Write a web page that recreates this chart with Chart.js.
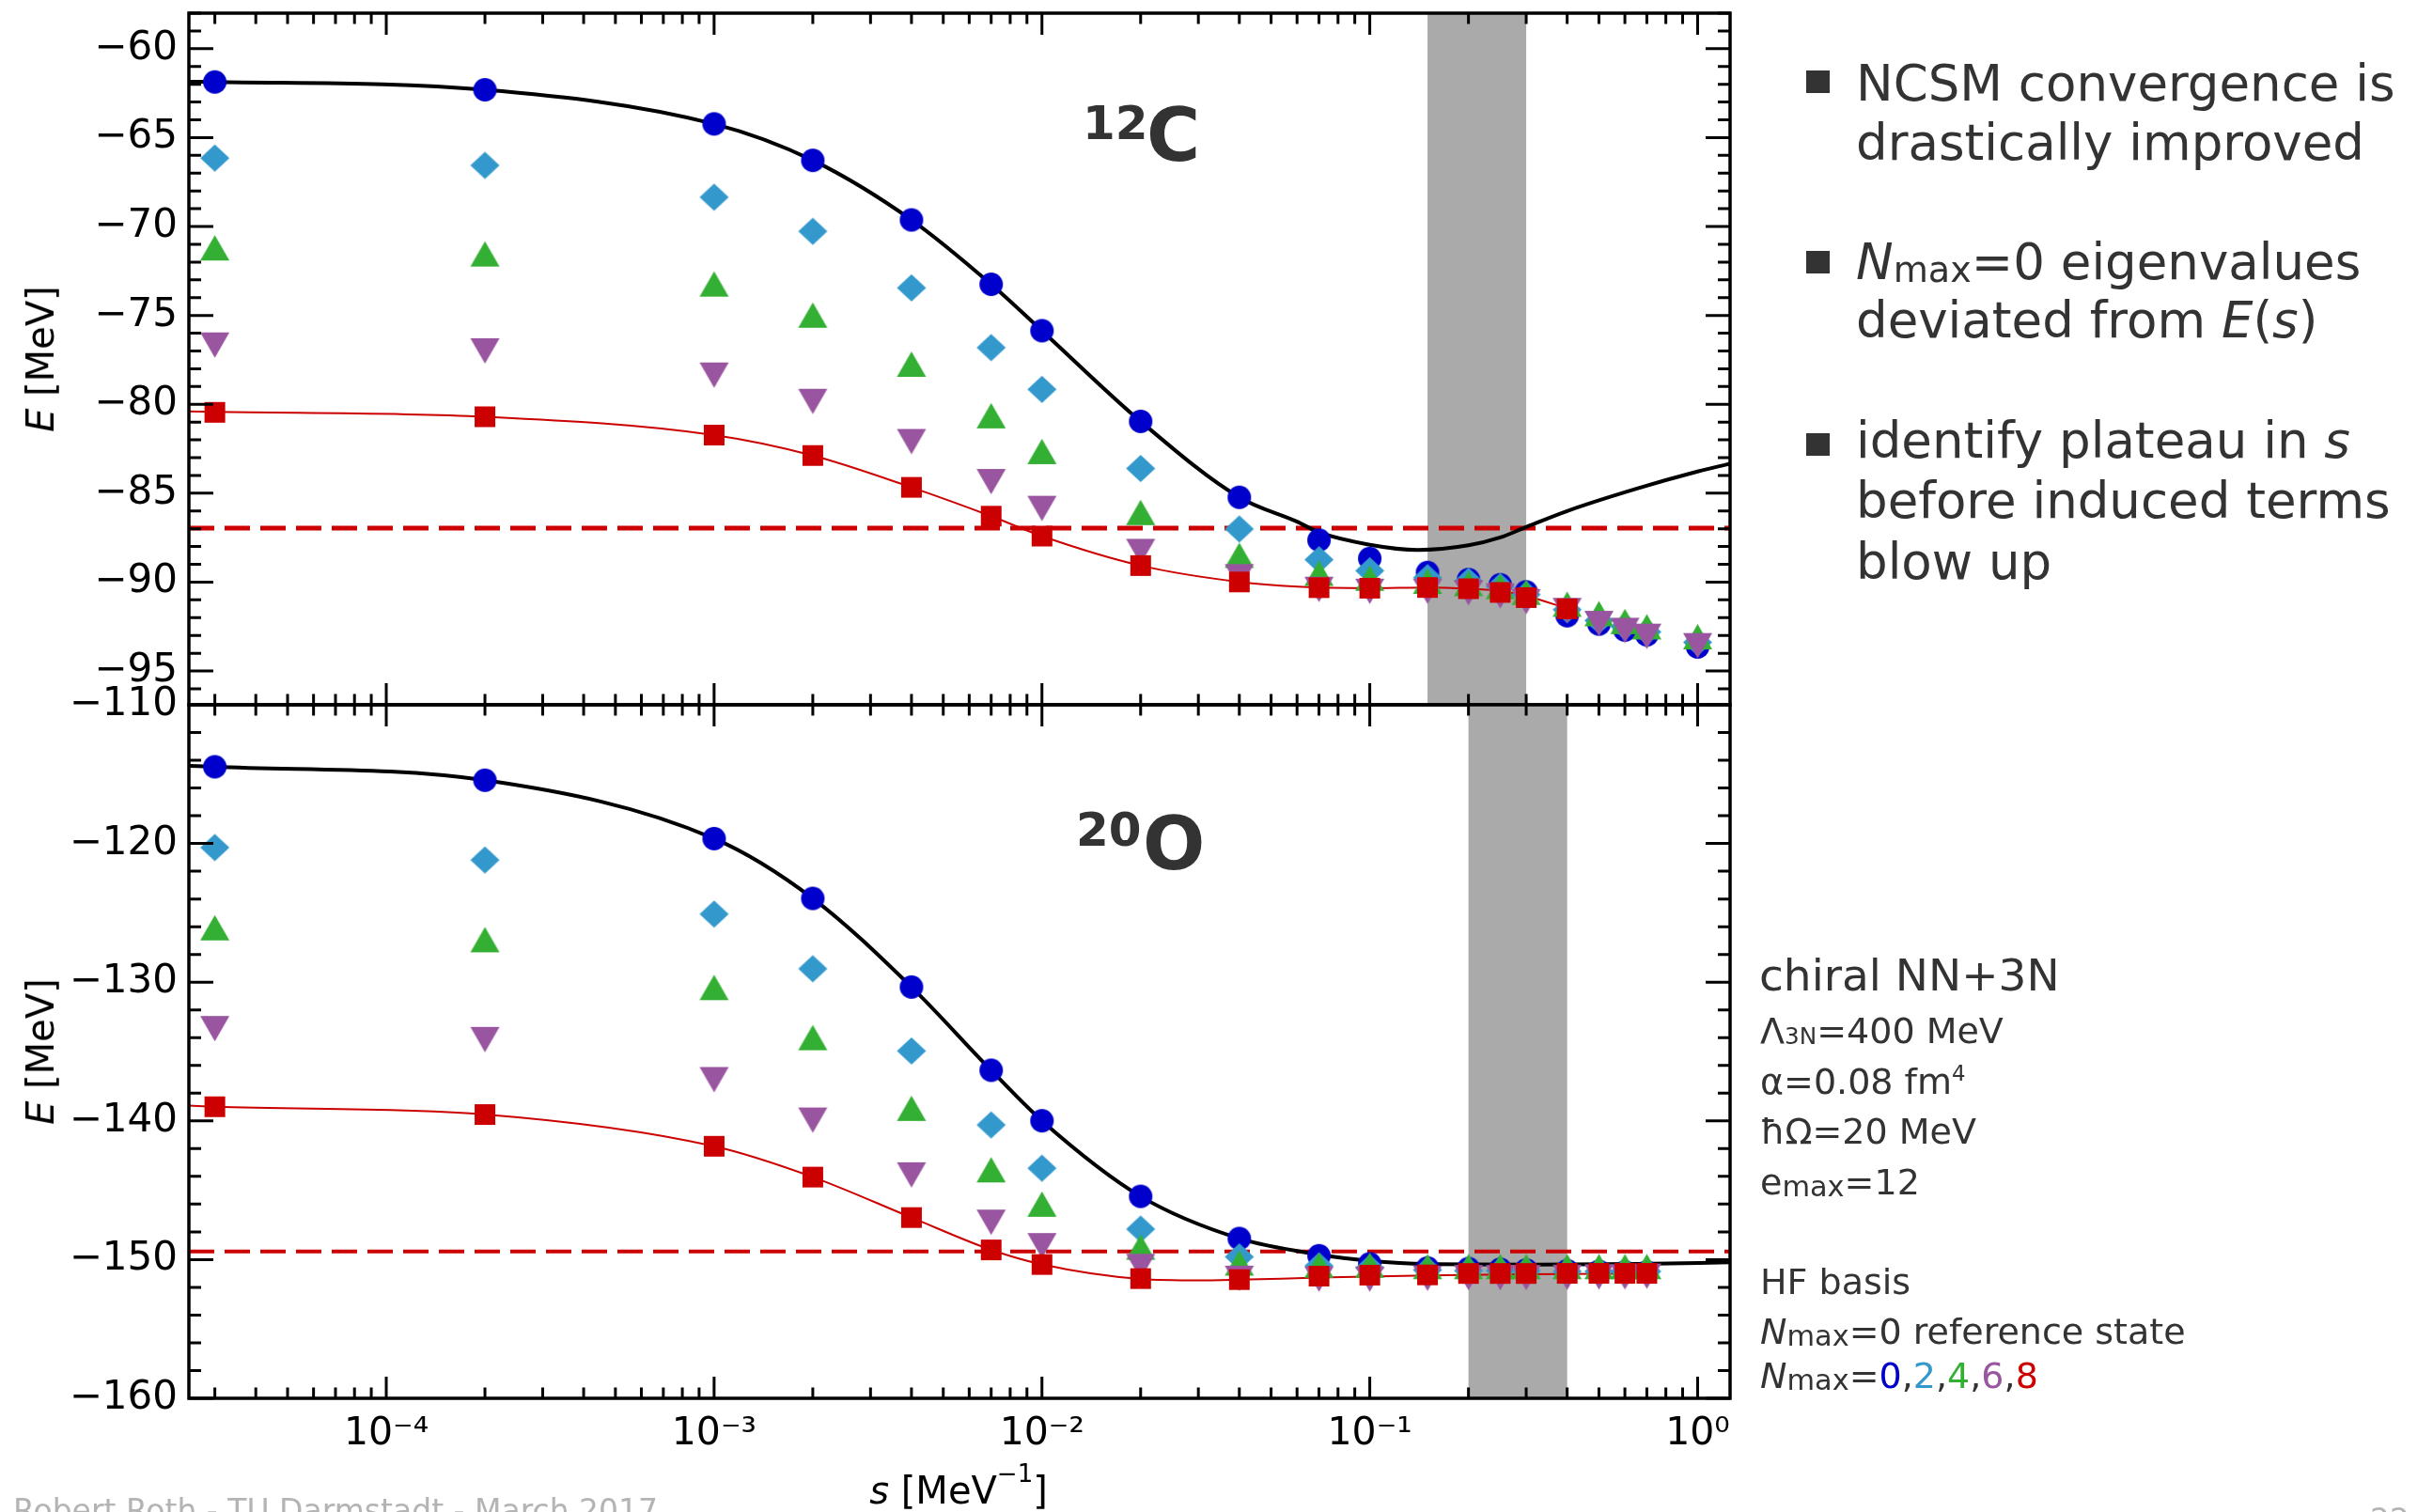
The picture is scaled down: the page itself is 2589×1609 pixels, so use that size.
<!DOCTYPE html>
<html>
<head>
<meta charset="utf-8">
<script src="https://cdn.jsdelivr.net/npm/chart.js@4.4.1/dist/chart.umd.min.js"></script>
<style>
  html, body { margin: 0; padding: 0; background: #fff; }
  #page { position: relative; width: 2589px; height: 1609px; overflow: hidden; font-family: "DejaVu Sans"; color: #333; }
  canvas { position: absolute; left: 0; top: 0; }
  .t { position: absolute; white-space: nowrap; line-height: 1; }
  .big { left: 1975px; font-size: 53px; }
  .med { left: 1873px; font-size: 38px; }
  .bl { position: absolute; left: 1922px; width: 25px; height: 24px; background: #333; }
  .sub { font-size: 0.72em; position: relative; top: 0.08em; }
  .sub2 { font-size: 0.8em; position: relative; top: 0.06em; }
  .sub3 { font-size: 0.65em; position: relative; top: 0.06em; }
  .sup2 { font-size: 0.6em; position: relative; top: -0.62em; }
  .iso { font-weight: bold; color: #333; }
  .ytitle { font-size: 40px; color: #000; transform: translate(-50%, -50%) rotate(-90deg); }
  .xtitle { font-size: 40px; color: #000; transform: translateX(-50%); }
  .xsup { font-size: 26px; position: relative; top: -23px; }
  .foot { font-size: 33px; color: #b4b4b4; }
</style>
</head>
<body>
<div id="page">
  <canvas id="chartC" width="2589" height="1609"></canvas>
  <canvas id="chartO" width="2589" height="1609"></canvas>

  <div class="t iso" style="left:1152px; top:106px; font-size:50px">12</div>
  <div class="t iso" style="left:1220px; top:105px; font-size:78px">C</div>
  <div class="t iso" style="left:1145px; top:858px; font-size:50px">20</div>
  <div class="t iso" style="left:1216px; top:859px; font-size:78px">O</div>

  <div class="t ytitle" style="left:43px; top:382px"><i>E</i> [MeV]</div>
  <div class="t ytitle" style="left:43px; top:1119px"><i>E</i> [MeV]</div>
  <div class="t xtitle" style="left:1020px; top:1566px"><i>s</i> [MeV<span class="xsup">&minus;1</span>]</div>

  <div class="bl" style="top:75px"></div>
  <div class="t big" style="top:62px">NCSM convergence is</div>
  <div class="t big" style="top:125px">drastically improved</div>
  <div class="bl" style="top:267px"></div>
  <div class="t big" style="top:252px"><i>N</i><span class="sub">max</span>=0 eigenvalues</div>
  <div class="t big" style="top:314px">deviated from <i>E</i>(<i>s</i>)</div>
  <div class="bl" style="top:461px"></div>
  <div class="t big" style="top:442px">identify plateau in <i>s</i></div>
  <div class="t big" style="top:506px">before induced terms</div>
  <div class="t big" style="top:571px">blow up</div>

  <div class="t" style="left:1872px; top:1014px; font-size:47px">chiral NN+3N</div>
  <div class="t med" style="top:1078px">&Lambda;<span class="sub3">3N</span>=400 MeV</div>
  <div class="t med" style="top:1132px">&alpha;=0.08 fm<span class="sup2">4</span></div>
  <div class="t med" style="top:1185px">&#295;&Omega;=20 MeV</div>
  <div class="t med" style="top:1239px">e<span class="sub2">max</span>=12</div>
  <div class="t med" style="top:1345px">HF basis</div>
  <div class="t med" style="top:1398px"><i>N</i><span class="sub2">max</span>=0 reference state</div>
  <div class="t med" style="top:1445px"><i>N</i><span class="sub2">max</span>=<span style="color:#0000cc">0</span>,<span style="color:#3399cc">2</span>,<span style="color:#33b033">4</span>,<span style="color:#99559f">6</span>,<span style="color:#cc0000">8</span></div>

  <div class="t foot" style="left:14px; top:1591px">Robert Roth - TU Darmstadt - March 2017</div>
  <div class="t foot" style="left:2522px; top:1601px">22</div>
</div>

<script>
// axis range shared by both panels, s in MeV^-1
const sRange = [2.5e-5, 1.256];
const xTicks = [1e-4, 1e-3, 1e-2, 1e-1, 1];

// 12C panel
const yRangeC = [-96.9, -58];
const yTicksC = [-95, -90, -85, -80, -75, -70, -65, -60];
const sC = [3e-5, 2e-4, 1e-3, 2e-3, 4e-3, 7e-3, 1e-2, 2e-2, 4e-2, 7e-2, 0.1, 0.15, 0.2, 0.25, 0.3, 0.4, 0.5, 0.6, 0.7, 1.0];
const eC0 = [-61.87, -62.31, -64.23, -66.28, -69.63, -73.25, -75.86, -80.96, -85.23, -87.64, -88.67, -89.46, -89.86, -90.15, -90.55, -91.89, -92.36, -92.70, -92.97, -93.65];
const eC2 = [-66.15, -66.56, -68.35, -70.27, -73.45, -76.81, -79.16, -83.61, -87.01, -88.74, -89.36, -89.75, -89.95, -90.25, -90.70, -91.55, -92.16, -92.50, -92.80, -93.39];
const eC4 = [-71.20, -71.54, -73.23, -74.98, -77.74, -80.64, -82.65, -86.08, -88.49, -89.50, -89.78, -89.95, -90.08, -90.25, -90.57, -91.24, -91.77, -92.21, -92.51, -93.07];
const eC6 = [-76.67, -77.00, -78.36, -79.84, -82.10, -84.35, -85.86, -88.28, -89.70, -90.41, -90.52, -90.52, -90.60, -90.78, -91.10, -91.60, -92.33, -92.72, -93.05, -93.58];
const eC8 = [-80.45, -80.70, -81.73, -82.88, -84.67, -86.29, -87.41, -89.07, -89.99, -90.31, -90.34, -90.30, -90.37, -90.58, -90.87, -91.50];
const sLineC = [2.5e-5, 3e-5, 2e-4, 1e-3, 2e-3, 4e-3, 7e-3, 1e-2, 2e-2, 4e-2, 0.06, 0.07, 0.1, 0.14, 0.2, 0.25, 0.3, 0.4, 0.65, 1.0, 1.256];
const eLineC = [-61.86, -61.87, -62.31, -64.23, -66.28, -69.63, -73.25, -75.86, -80.96, -85.23, -86.60, -87.20, -87.90, -88.19, -87.93, -87.49, -86.90, -86.00, -84.75, -83.78, -83.34];
const sFitC = [2.5e-5, 3e-5, 2e-4, 1e-3, 2e-3, 4e-3, 7e-3, 1e-2, 2e-2, 4e-2, 0.06, 0.1, 0.15, 0.2, 0.25, 0.3, 0.4];
const eFitC = [-80.40, -80.42, -80.70, -81.73, -82.88, -84.67, -86.29, -87.41, -89.07, -89.99, -90.25, -90.34, -90.30, -90.37, -90.50, -90.78, -91.48];
const refC = -86.97;
const bandC = [0.15, 0.3];

// 20O panel
const yRangeO = [-160, -110];
const yTicksO = [-160, -150, -140, -130, -120, -110];
const sO = [3e-5, 2e-4, 1e-3, 2e-3, 4e-3, 7e-3, 1e-2, 2e-2, 4e-2, 7e-2, 0.1, 0.15, 0.2, 0.25, 0.3, 0.4, 0.5, 0.6, 0.7];
const eO0 = [-114.47, -115.44, -119.65, -123.96, -130.35, -136.35, -139.99, -145.44, -148.48, -149.72, -150.30, -150.60, -150.65, -150.70, -150.75, -150.80, -150.85, -150.90, -150.90];
const eO2 = [-120.29, -121.19, -125.09, -129.03, -134.96, -140.29, -143.41, -147.80, -149.80, -150.45, -150.60, -150.75, -150.80, -150.80, -150.80, -150.85, -150.85, -150.85, -150.85];
const eO4 = [-126.07, -126.93, -130.38, -133.99, -139.09, -143.52, -146.00, -149.10, -150.24, -150.40, -150.40, -150.50, -150.50, -150.50, -150.50, -150.50, -150.50, -150.50, -150.50];
const eO6 = [-133.35, -134.14, -137.03, -139.95, -143.90, -147.31, -149.00, -150.50, -151.35, -151.41, -151.41, -151.35, -151.30, -151.30, -151.30, -151.28, -151.25, -151.25, -151.20];
const eO8 = [-138.98, -139.54, -141.83, -144.05, -146.97, -149.30, -150.35, -151.37, -151.44, -151.19, -151.12, -151.10, -151.00, -151.00, -151.00, -150.99, -150.99, -150.99, -150.99];
const sLineO = [2.5e-5, 3e-5, 2e-4, 1e-3, 2e-3, 4e-3, 7e-3, 1e-2, 2e-2, 4e-2, 0.07, 0.1, 0.15, 0.3, 0.66, 1.256];
const eLineO = [-114.40, -114.47, -115.44, -119.65, -123.96, -130.35, -136.35, -139.99, -145.44, -148.48, -149.64, -150.09, -150.32, -150.36, -150.32, -150.20];
const sFitO = [2.5e-5, 3e-5, 2e-4, 1e-3, 2e-3, 4e-3, 7e-3, 1e-2, 2e-2, 3e-2, 4e-2, 0.07, 0.15, 0.3, 0.7];
const eFitO = [-138.90, -138.98, -139.54, -141.83, -144.05, -146.97, -149.30, -150.35, -151.40, -151.50, -151.45, -151.30, -151.15, -151.06, -151.00];
const refO = -149.41;
const bandO = [0.2, 0.4];

const nmaxColors = ["#0000cc", "#3399cc", "#33b033", "#99559f", "#cc0000"];
const nmaxShapes = ["circle", "diamond", "up", "down", "square"];

Chart.defaults.font.family = "DejaVu Sans";

const markerSize = { circle: [25, 25], diamond: [31, 29], up: [31, 27], down: [31, 27], square: [22, 22] };

// small canvas used as point style, centred on its bounding box like matplotlib markers
function makeMarker(shape, color) {
  const [w, h] = markerSize[shape];
  const c = document.createElement("canvas");
  c.width = w + 2;
  c.height = h + 2;
  const g = c.getContext("2d");
  g.translate(1, 1);
  g.fillStyle = color;
  g.beginPath();
  if (shape === "circle") g.ellipse(w / 2, h / 2, w / 2, h / 2, 0, 0, 2 * Math.PI);
  else if (shape === "diamond") { g.moveTo(w / 2, 0); g.lineTo(w, h / 2); g.lineTo(w / 2, h); g.lineTo(0, h / 2); }
  else if (shape === "up") { g.moveTo(w / 2, 0); g.lineTo(w, h); g.lineTo(0, h); }
  else if (shape === "down") { g.moveTo(0, 0); g.lineTo(w, 0); g.lineTo(w / 2, h); }
  else g.rect(0, 0, w, h);
  g.closePath();
  g.fill();
  return c;
}

const pairs = (xs, ys) => ys.map((y, i) => ({ x: xs[i], y }));
const minus = v => (v < 0 ? "\u2212" : "") + Math.abs(v);
const supDigits = { "-": "\u207b", "0": "\u2070", "1": "\u00b9", "2": "\u00b2", "3": "\u00b3", "4": "\u2074" };
const decadeLabel = v => "10" + String(Math.round(Math.log10(v))).split("").map(c => supDigits[c]).join("");

// labels must not push the plot area around
const noOverflow = s => { s.paddingTop = 0; s.paddingBottom = 0; s.paddingLeft = 0; s.paddingRight = 0; };

// grey band, inward ticks on all four sides and the frame
const framePlugin = {
  id: "frame",
  beforeDatasetsDraw(chart, args, opts) {
    const { ctx, chartArea: a } = chart;
    const x = chart.scales.x;
    const x0 = x.getPixelForValue(opts.band[0]);
    const x1 = x.getPixelForValue(opts.band[1]);
    ctx.save();
    ctx.fillStyle = "#aaaaaa";
    ctx.fillRect(x0, a.top, x1 - x0, a.bottom - a.top);
    ctx.restore();
  },
  afterDraw(chart, args, opts) {
    const { ctx, chartArea: a } = chart;
    const x = chart.scales.x, y = chart.scales.y;
    ctx.save();
    ctx.strokeStyle = "#000";
    ctx.lineWidth = 3;
    ctx.beginPath();
    for (let p = -5; p <= 0; p++) {
      for (let k = 1; k <= 9; k++) {
        const v = k * Math.pow(10, p);
        if (v < x.min || v > x.max) continue;
        const px = x.getPixelForValue(v);
        const len = k === 1 ? 23 : 11.5;
        ctx.moveTo(px, a.bottom); ctx.lineTo(px, a.bottom - len);
        ctx.moveTo(px, a.top); ctx.lineTo(px, a.top + len);
      }
    }
    for (let v = Math.ceil(y.min / opts.minor) * opts.minor; v <= y.max; v += opts.minor) {
      const py = y.getPixelForValue(v);
      const len = Math.abs(v % opts.major) < 1e-6 ? 26 : 13;
      ctx.moveTo(a.left, py); ctx.lineTo(a.left + len, py);
      ctx.moveTo(a.right, py); ctx.lineTo(a.right - len, py);
    }
    ctx.stroke();
    ctx.lineWidth = 3.5;
    ctx.strokeRect(a.left, a.top, a.right - a.left, a.bottom - a.top);
    ctx.restore();
  }
};

function buildPanel(id, p) {
  const datasets = [
    { data: [{ x: sRange[0], y: p.ref }, { x: sRange[1], y: p.ref }], showLine: true, borderColor: "#cc0000",
      borderWidth: p.dashWidth, borderDash: [27, 11], pointRadius: 0, order: 9 },
    { data: pairs(p.sLine, p.eLine), showLine: true, borderColor: "#000", borderWidth: 4,
      cubicInterpolationMode: "monotone", pointRadius: 0, order: 8 },
    { data: pairs(p.sFit, p.eFit), showLine: true, borderColor: "#cc0000", borderWidth: 2,
      cubicInterpolationMode: "monotone", pointRadius: 0, order: 7 }
  ];
  p.series.forEach((e, i) => {
    datasets.push({
      data: pairs(p.s, e),
      pointStyle: makeMarker(nmaxShapes[i], nmaxColors[i]),
      pointRadius: 12,
      order: 5 - i
    });
  });

  return new Chart(document.getElementById(id), {
    type: "scatter",
    data: { datasets },
    plugins: [framePlugin],
    options: {
      responsive: false,
      animation: false,
      devicePixelRatio: 1,
      events: [],
      layout: { padding: p.padding },
      plugins: {
        legend: { display: false },
        tooltip: { enabled: false },
        frame: { band: p.band, minor: p.minor, major: p.major }
      },
      scales: {
        x: {
          type: "logarithmic",
          min: sRange[0],
          max: sRange[1],
          display: p.showX,
          afterFit: s => { if (p.showX) s.height = 121; noOverflow(s); },
          afterBuildTicks: s => { s.ticks = xTicks.map(v => ({ value: v })); },
          grid: { display: false, drawTicks: false },
          border: { display: false },
          ticks: { padding: 18, color: "#000", maxRotation: 0, autoSkip: false,
                   font: { size: 41, lineHeight: 1 }, callback: v => decadeLabel(v) }
        },
        y: {
          type: "linear",
          min: p.yRange[0],
          max: p.yRange[1],
          afterFit: s => { s.width = 201; noOverflow(s); },
          afterBuildTicks: s => { s.ticks = p.yTicks.map(v => ({ value: v })); },
          grid: { display: false, drawTicks: false },
          border: { display: false },
          ticks: { padding: 12, color: "#000", font: { size: 42, lineHeight: 1 }, callback: v => minus(v) }
        }
      }
    }
  });
}

buildPanel("chartC", {
  s: sC, series: [eC0, eC2, eC4, eC6, eC8],
  sLine: sLineC, eLine: eLineC, sFit: sFitC, eFit: eFitC,
  ref: refC, band: bandC, yRange: yRangeC, yTicks: yTicksC,
  minor: 1, major: 5, dashWidth: 5, showX: false,
  padding: { left: 0, right: 748, top: 14, bottom: 859 }
});

buildPanel("chartO", {
  s: sO, series: [eO0, eO2, eO4, eO6, eO8],
  sLine: sLineO, eLine: eLineO, sFit: sFitO, eFit: eFitO,
  ref: refO, band: bandO, yRange: yRangeO, yTicks: yTicksO,
  minor: 2, major: 10, dashWidth: 4, showX: true,
  padding: { left: 0, right: 748, top: 750, bottom: 0 }
});
</script>
</body>
</html>
